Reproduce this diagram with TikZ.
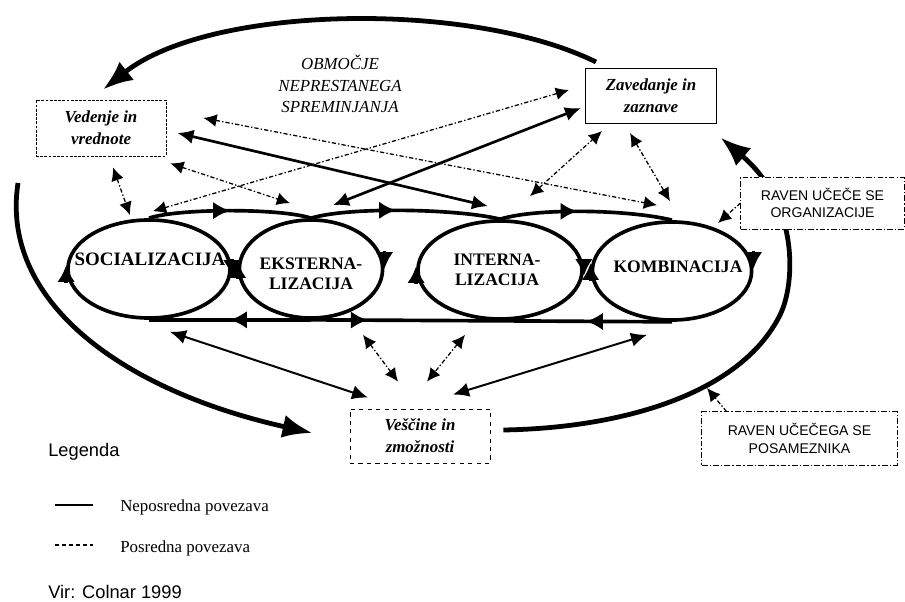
\documentclass[tikz,border=0pt]{standalone}
\usepackage{fontspec}
\setmainfont{Liberation Serif}
\setsansfont{Liberation Sans}
\usetikzlibrary{arrows.meta,shapes.geometric,decorations.markings,calc}
\tikzset{
  BigTip/.tip={Latex[length=7.5mm,width=5.8mm]},
  MidTip/.tip={Latex[length=4.2mm,width=4.4mm]},
  LinkTip/.tip={Latex[length=4mm,width=3.6mm]},
  SmallTip/.tip={Latex[length=3.3mm,width=3.2mm]},
}
\begin{document}
\begin{tikzpicture}[x=0.025cm,y=-0.025cm,
  box/.style={draw, line width=0.6pt, fill=white, inner sep=0pt, align=center,
    font=\fontsize{12}{15.5}\selectfont\bfseries\itshape},
  lvl/.style={draw, line width=0.6pt, dash pattern=on 4pt off 1.5pt on 1pt off 1.5pt,
    fill=white, inner sep=0pt, align=center, font=\sffamily\fontsize{10}{12.5}\selectfont},
  proc/.style={ellipse, draw, line width=2.6pt, inner sep=0pt, minimum height=2.45cm},
  cyc/.style={line width=2.6pt, -{MidTip}},
  plab/.style={inner sep=0pt, align=center, font=\fontsize{12.5}{14.5}\selectfont\bfseries},
  flow/.style={line width=2.6pt},
  midarrow/.style={postaction={decorate},
    decoration={markings, mark=at position #1 with {\arrow{MidTip}}}},
  indirect/.style={line width=0.9pt, dash pattern=on 3pt off 1.5pt on 1pt off 1.5pt},
  direct/.style={line width=1.9pt},
  directthin/.style={line width=1.4pt},
  bigc/.style={line width=3.4pt},
]
\useasboundingbox (0,0) rectangle (905,602);

% processes
\node[proc, minimum width=4.05cm] (soc) at (149,269) {};
\node[proc, minimum width=3.58cm] (eks) at (311,269) {};
\node[proc, minimum width=4.1cm] (int) at (500,270) {};
\node[proc, minimum width=3.98cm] (kom) at (672,271) {};

% cycle arrowheads on the ellipses (clockwise)
\draw[cyc] ($(soc.east)+(0,-10)$) -- ($(soc.east)+(0,8)$);
\draw[cyc] ($(soc.west)+(0,14)$) -- ($(soc.west)+(0,-4)$);
\draw[cyc] ($(eks.east)+(0,-18)$) -- ($(eks.east)+(0,0)$);
\draw[cyc] ($(eks.west)+(0,10)$) -- ($(eks.west)+(0,-8)$);
\draw[cyc] ($(int.east)+(0,-10)$) -- ($(int.east)+(0,6)$);
\draw[cyc] ($(int.west)+(0,14)$) -- ($(int.west)+(0,-4)$);
\draw[cyc] ($(kom.east)+(0,-20)$) -- ($(kom.east)+(0,-2)$);
\draw[cyc] ($(kom.west)+(0,10)$) -- ($(kom.west)+(0,-8)$);

\node[plab, font=\fontsize{13.5}{14.5}\selectfont\bfseries] (socL) at (150,259) {SOCIALIZACIJA};
\node[plab] (eksL) at (311,274) {EKSTERNA-\\LIZACIJA};
\node[plab] (intL) at (497,270) {INTERNA-\\LIZACIJA};
\node[plab] (komL) at (678,267) {KOMBINACIJA};

% boxes
\node[box, dash pattern=on 2pt off 1pt, minimum width=3.25cm, minimum height=1.4cm] (ved) at (101,128) {Vedenje in\\vrednote};
\node[box, minimum width=3.28cm, minimum height=1.38cm] (zav) at (651,96) {Zavedanje in\\zaznave};
\node[box, dashed, minimum width=3.5cm, minimum height=1.35cm] (ves) at (420,436) {Veščine in\\zmožnosti};

\node[inner sep=0pt, align=center, font=\fontsize{12}{15.5}\selectfont\itshape] (obm) at (340,84) {OBMOČJE\\NEPRESTANEGA\\SPREMINJANJA};

% top and bottom flows
\draw[flow, midarrow=0.5] (soc.north) .. controls +(30,-10) and +(-30,-10) .. (eks.north);
\draw[flow, midarrow=0.45] (eks.north) .. controls +(40,-12) and +(-40,-10) .. (int.north);
\draw[flow, midarrow=0.45] (int.north) .. controls +(40,-12) and +(-40,-10) .. (kom.north);
\draw[flow, midarrow=0.5] (eks.south) -- (soc.south);
\draw[flow, midarrow=0.3] (eks.south) -- (int.south);
\draw[flow, midarrow=0.5] (kom.south) -- (int.south);

% indirect links
\draw[indirect, {SmallTip}-{SmallTip}] ($(ved.south)+(12,11)$) -- ($(soc.north)+(-19,-3)$);
\draw[indirect, {SmallTip}-{SmallTip}] ($(ved.south east)+(4,7)$) -- ($(eks.north)+(-21,-15)$);
\draw[indirect, {SmallTip}-{SmallTip}] ($(ved.east)+(37,-10)$) -- ($(kom.north)+(-15,-15)$);
\draw[indirect, {SmallTip}-{SmallTip}] ($(soc.north)+(4,-7)$) -- ($(zav.west)+(-16,-6)$);
\draw[indirect, {SmallTip}-{SmallTip}] ($(int.north)+(30,-23)$) -- ($(zav.south)+(-49,7)$);
\draw[indirect, {SmallTip}-{SmallTip}] ($(zav.south)+(-21,9)$) -- ($(kom.north)+(-2,-19)$);
\draw[indirect, {SmallTip}-{SmallTip}] ($(eks.south)+(52,15)$) -- ($(ves.north)+(-22,-27)$);
\draw[indirect, {SmallTip}-{SmallTip}] ($(int.south)+(-35,14)$) -- ($(ves.north)+(7,-27)$);

% direct links
\draw[direct, {LinkTip}-{LinkTip}] ($(ved.east)+(11,5)$) -- ($(int.north)+(-12,-13)$);
\draw[direct, {LinkTip}-{LinkTip}] ($(eks.north)+(22,-13)$) -- ($(zav.west)+(-4,12)$);
\draw[directthin, {LinkTip}-{LinkTip}] ($(soc.south)+(21,12)$) -- ($(ves.north)+(-52,-11)$);
\draw[directthin, {LinkTip}-{LinkTip}] ($(kom.south)+(-25,13)$) -- ($(ves.north)+(33,-14)$);

% big curves
\draw[bigc, -{BigTip}] ($(zav.north west)+(11,-6)$) .. controls (470,0) and (210,5) .. ($(ved.north)+(2,-10)$);
\coordinate (lcs) at (18,183);
\draw[bigc, -{BigTip}] (lcs) .. controls (0,300) and (120,390) .. ($(ves.west)+(-37,-3)$);
\draw[bigc, -{BigTip}] ($(ves.east)+(13,-6)$) .. controls (620,428) and (740,395) .. (780,315)
   .. controls (795,285) and (800,205) .. ($(zav.south east)+(3.5,13.5)$);

% level boxes
\node[lvl, minimum width=4.08cm, minimum height=1.3cm] (ravO) at (822.5,203) {RAVEN UČEČE SE\\ORGANIZACIJE};
\node[lvl, minimum width=4.88cm, minimum height=1.33cm] (ravP) at (799.5,438.5) {RAVEN UČEČEGA SE\\POSAMEZNIKA};
\draw[indirect, -{SmallTip}] (ravO.west) -- ($(kom.center)+(46,-48)$);
\coordinate (onC) at (707,388);
\draw[indirect, -{SmallTip}] ($(ravP.north west)+(25,0)$) -- (onC);

% legend
\node[anchor=west, inner sep=0pt, font=\sffamily\fontsize{13}{15}\selectfont] (leg) at (48,452) {Legenda};
\coordinate (l1a) at (55,505); \coordinate (l1b) at (93,505);
\coordinate (l2a) at (55,545); \coordinate (l2b) at (93,545);
\draw[line width=0.8pt] (l1a) -- (l1b);
\draw[line width=0.8pt, dash pattern=on 3pt off 2pt] (l2a) -- (l2b);
\node[anchor=west, inner sep=0pt, font=\fontsize{12}{14}\selectfont] (legN) at (120,507) {Neposredna povezava};
\node[anchor=west, inner sep=0pt, font=\fontsize{12}{14}\selectfont] (legP) at (120,548) {Posredna povezava};
\node[anchor=west, inner sep=0pt, font=\sffamily\fontsize{13}{15}\selectfont] (vir) at (48,592) {Vir: Colnar 1999};
\end{tikzpicture}
\end{document}
